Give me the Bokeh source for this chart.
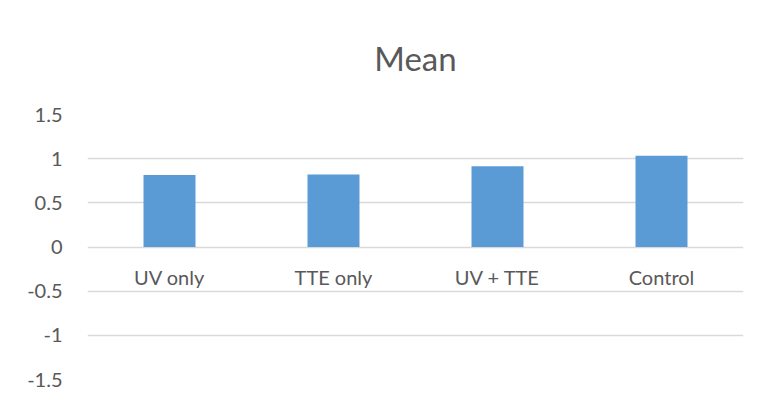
from bokeh.plotting import figure
from bokeh.models import FixedTicker, Range1d, CustomJSTickFormatter
from bokeh.embed import file_html
from bokeh.resources import INLINE

categories = ["UV only", "TTE only", "UV + TTE", "Control"]
means = [0.815, 0.82, 0.913, 1.033]
y_ticks = [-1.5, -1, -0.5, 0, 0.5, 1, 1.5]

FONT = "Lato"
TXT = "#595959"

p = figure(x_range=categories, y_range=Range1d(-1.5, 1.5),
           width=756, height=401, output_backend="svg", toolbar_location=None,
           title="Mean", min_border_left=80, min_border_right=20,
           min_border_top=99, min_border_bottom=24, margin=(2, 0, 0, 7))

p.vbar(x=categories, top=means, width=0.317, fill_color="#5B9BD5", line_color=None)

p.title.align = "center"
p.title.text_font = FONT
p.title.text_font_size = "33px"
p.title.text_font_style = "normal"
p.title.text_color = TXT
p.title.vertical_align = "top"
p.title.standoff = 70

p.outline_line_color = None
p.xgrid.grid_line_color = None
p.ygrid.grid_line_color = "#D9D9D9"
p.ygrid.grid_line_width = 1.3
p.ygrid.ticker = FixedTicker(ticks=y_ticks)

p.yaxis.ticker = FixedTicker(ticks=y_ticks)
p.yaxis.formatter = CustomJSTickFormatter(code="return tick.toString();")
p.yaxis.axis_line_color = None
p.yaxis.major_tick_line_color = None
p.yaxis.minor_tick_line_color = None
p.yaxis.major_label_text_font = FONT
p.yaxis.major_label_text_font_size = "20px"
p.yaxis.major_label_text_color = TXT
p.yaxis.major_label_standoff = 19

p.xaxis.fixed_location = 0
p.xaxis.axis_line_color = None
p.xaxis.major_tick_line_color = None
p.xaxis.major_label_text_font = FONT
p.xaxis.major_label_text_font_size = "20px"
p.xaxis.major_label_text_color = TXT
p.xaxis.major_label_standoff = 12

open("out.html", "w").write(file_html(p, INLINE))
